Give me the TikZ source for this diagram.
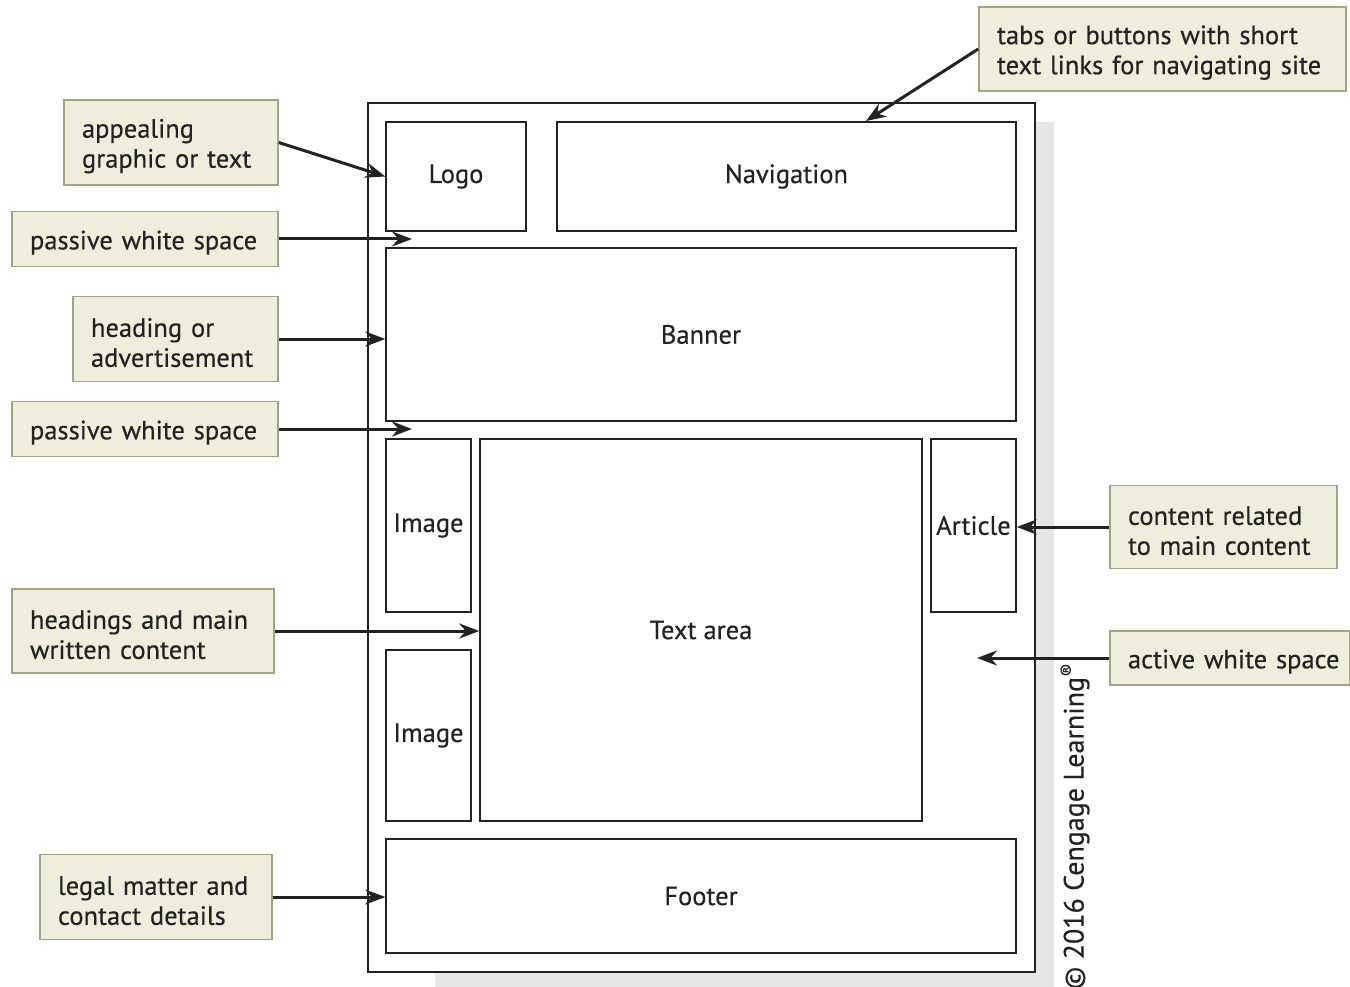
\documentclass[tikz,border=0pt]{standalone}
\usepackage{fontspec}
\setmainfont[FakeBold=0.35]{PT Sans}
\usetikzlibrary{arrows.meta,calc}
\definecolor{callfill}{HTML}{EFEEDC}
\definecolor{calldraw}{HTML}{A3A283}
\definecolor{shadow}{HTML}{E6E6E6}
\definecolor{ink}{HTML}{222222}
\tikzset{
  lay/.style={draw=ink, line width=1.5pt, fill=white, inner sep=0pt, font=\fontsize{26.5}{30}\selectfont, text=ink},
  callout/.style={draw=calldraw, line width=1.6pt, fill=callfill, inner xsep=18pt, inner ysep=0pt, align=left,
     font=\fontsize{26.5}{30}\selectfont, text=ink, execute at begin node={\rule{0pt}{26pt}}},
  arr/.style={draw=ink, line width=3pt, -{Stealth[length=20pt,width=15pt]}},
}
\begin{document}
\begin{tikzpicture}[x=1pt,y=-1pt]
\useasboundingbox (0,0) rectangle (1350,987);
% shadow and page
\fill[shadow] (435,122) rectangle (1054,987);
\node[lay, minimum width=667pt, minimum height=869pt] (page) at (701.5,537.5) {};
% layout boxes
\node[lay, minimum width=140pt, minimum height=109pt] (logo) at (456,176.5) {Logo};
\node[lay, minimum width=459pt, minimum height=109pt] (nav) at (786.5,176.5) {Navigation};
\node[lay, minimum width=630pt, minimum height=173pt] (banner) at (701,334.5) {Banner};
\node[lay, minimum width=85pt, minimum height=173pt] (img1) at (428.5,525.5) {Image};
\node[lay, minimum width=442pt, minimum height=382pt] (text) at (701,630) {Text area};
\node[lay, minimum width=85pt, minimum height=173pt] (article) at (973.5,525.5) {Article};
\node[lay, minimum width=85pt, minimum height=171pt] (img2) at (428.5,735.5) {Image};
\node[lay, minimum width=630pt, minimum height=114pt] (footer) at (701,896) {Footer};
% callouts
\node[callout, minimum width=367pt, minimum height=84pt, text width=331pt] (tabs) at (1162.5,49) {tabs or buttons with short\\text links for navigating site};
\node[callout, minimum width=214pt, minimum height=85pt, text width=178pt] (appeal) at (171,142.5) {appealing\\graphic or text};
\node[callout, minimum width=266pt, minimum height=55pt, text width=230pt] (pws1) at (145,239) {passive white space};
\node[callout, minimum width=205pt, minimum height=85pt, text width=169pt] (heading) at (175.5,339) {heading or\\advertisement};
\node[callout, minimum width=266pt, minimum height=55pt, text width=230pt] (pws2) at (145,429) {passive white space};
\node[callout, minimum width=262pt, minimum height=84pt, text width=226pt] (headings) at (143,631) {headings and main\\written content};
\node[callout, minimum width=232pt, minimum height=85pt, text width=196pt] (legal) at (156,897) {legal matter and\\contact details};
\node[callout, minimum width=227pt, minimum height=83pt, text width=191pt] (content) at (1223.5,527) {content related\\to main content};
\node[callout, minimum width=240pt, minimum height=54pt, text width=204pt] (active) at (1230,658) {\makebox[204pt][l]{active white space}};
% free arrow ends
\coordinate (navtop) at (866,121);
\coordinate (gap1) at (412,239);
\coordinate (gap2) at (412,429);
\coordinate (aws) at (977,658);
% arrows
\draw[arr] (tabs.west) -- (navtop);
\draw[arr] (appeal.east) -- (logo.west);
\draw[arr] (pws1.east) -- (gap1);
\draw[arr] (heading.east) -- (heading.east -| banner.west);
\draw[arr] (pws2.east) -- (gap2);
\draw[arr] (headings.east) -- (headings.east -| text.west);
\draw[arr] (legal.east) -- (legal.east -| footer.west);
\draw[arr] (content.west) -- (content.west -| article.east);
\draw[arr] (active.west) -- (aws);
% copyright
\node[rotate=90, font=\fontsize{28}{30}\selectfont, text=ink, inner sep=0pt] (copy) at (1075,826) {© 2016 Cengage Learning\textsuperscript{®}};
\end{tikzpicture}
\end{document}
